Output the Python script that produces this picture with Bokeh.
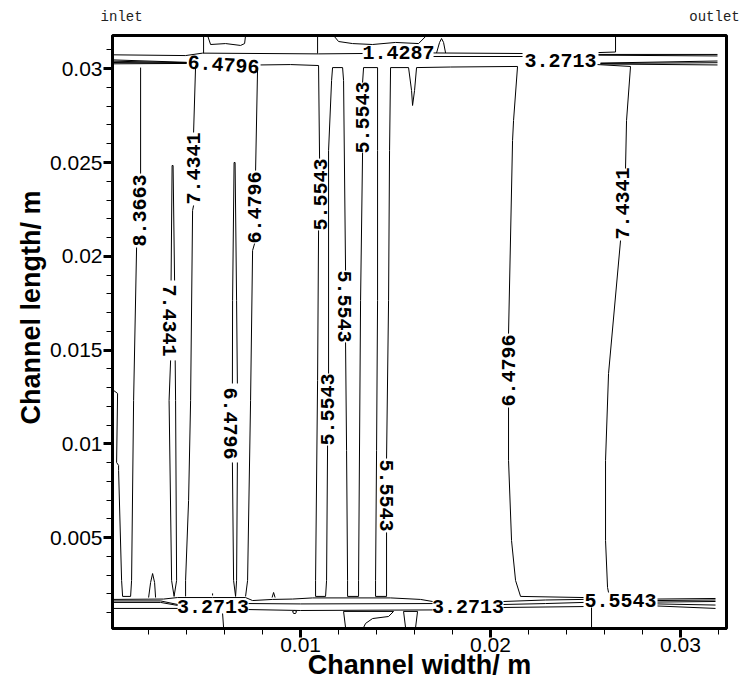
import math
import numpy as np
from bokeh.plotting import figure
from bokeh.models import (Range1d, FixedTicker, ColumnDataSource, LinearAxis, Title,
                          PrintfTickFormatter, AllLabels)
from bokeh.core.properties import value
from bokeh.embed import file_html
from bokeh.resources import INLINE

NaN = float("nan")

# ---------------- data (millimetres; NaN = gap at a contour label) -------------
# upper band (y ~ 30-31.8 mm)
top_edge_x = [0.105, 3.947, 4.842, 10.947, 13.263]
top_edge_y = [30.74, 30.70, 30.83, 30.79, 30.81]
top_drop_a_x = [4.895, 4.895]
top_drop_a_y = [31.77, 30.83]
top_drop_b_x = [10.895, 10.895]
top_drop_b_y = [31.77, 30.81]
top_bump_x = [5.105, 5.263, 6.053, 6.842, 7.053, 7.105]
top_bump_y = [31.77, 31.29, 31.34, 31.24, 31.34, 31.77]
top_wave_x = [11.737, 12.0, 12.737, 13.789, 15.0, 16.211, 16.632]
top_wave_y = [31.77, 31.45, 31.34, 31.29, 31.40, 31.34, 31.77]
top_tent_x = [17.158, 17.316, 17.421, 17.526, 17.632]
top_tent_y = [30.84, 31.40, 31.61, 31.40, 30.84]
top_mid_a_x = [17.0, 21.684]
top_mid_a_y = [30.84, 30.81]
top_mid_b_x = [17.0, 21.684]
top_mid_b_y = [30.65, 30.65]
top_right_up_x = [25.684, 26.579, 26.579]
top_right_up_y = [30.86, 30.89, 31.77]
top_r1_x = [25.684, 31.947]
top_r1_y = [30.76, 30.76]
top_r2_x = [25.684, 31.947]
top_r2_y = [30.72, 30.68]
top_r3_x = [25.789, 31.947]
top_r3_y = [30.30, 30.41]
top_r4_x = [25.789, 31.947]
top_r4_y = [30.28, 30.32]
top_r5_x = [25.789, 31.947]
top_r5_y = [30.25, 30.20]
top_l1_x = [0.105, 4.0]
top_l1_y = [30.47, 30.34]
top_l2_x = [0.105, 4.0]
top_l2_y = [30.40, 30.32]
top_l3_x = [0.105, 4.0]
top_l3_y = [30.33, 30.30]
top_l4_x = [0.105, 4.0]
top_l4_y = [30.26, 30.28]

# serpentine 5.5543 contour through the ribs, continuing as the 6.4796 contour
serp_x = [7.895, 9.474, 10.947, 11.0, NaN, 10.947, 10.895, 10.789, 10.789, 11.316, 11.368, 11.421, NaN,
          11.474, 11.474, 11.632, 11.684, 12.211, 12.263, 12.368, NaN, 12.368, 12.421, 12.474, 12.474,
          13.053, 13.053, 13.158, 13.263, NaN, 13.263, 13.316, 14.053, 14.053, 14.053, 14.0, 13.947,
          13.947, 14.526, 14.526, NaN, 14.526, 14.632, 14.684, 14.737, 15.684, 15.842, 15.895, 16.0,
          16.105, 17.895, 21.421, 21.211, 21.158, 20.947, NaN, 20.947, 20.947, 21.105, 21.316, 21.579,
          24.895]
serp_y = [30.20, 30.22, 30.17, 25.21, NaN, 21.38, 13.38, 2.72, 1.87, 1.87, 2.72, 9.91, NaN,
          13.75, 25.64, 29.37, 30.06, 30.06, 29.37, 19.24, NaN, 15.41, 9.65, 2.72, 1.87,
          1.87, 2.72, 17.64, 25.53, NaN, 29.26, 30.06, 30.06, 25.64, 17.64, 9.65, 2.72,
          1.87, 1.87, 5.28, NaN, 9.22, 17.64, 25.64, 30.06, 30.06, 28.84, 28.04, 28.84,
          30.06, 30.09, 30.12, 27.24, 26.17, 15.88, NaN, 11.94, 9.12, 4.85, 2.72, 1.87,
          1.81]

c6_left_x = [7.737, 7.632, NaN, 7.579, 7.474, 7.368, 7.211, 7.105]
c6_left_y = [30.06, 24.57, NaN, 20.68, 20.31, 12.31, 2.72, 1.87]
c7_left_x = [4.474, 4.368, NaN, 4.368, 4.316, 4.211, 4.105, 3.947, 3.947]
c7_left_y = [30.17, 26.60, NaN, 22.71, 22.44, 12.31, 6.98, 2.72, 1.87]
c8_x = [0.158, 0.368, 0.316, 0.421, 0.421, 0.579, 0.632, 1.053, 1.105, 1.211, 1.368, NaN, 1.579, 1.579]
c8_y = [12.85, 12.69, 9.01, 8.85, 8.58, 2.72, 1.87, 1.87, 2.72, 12.31, 20.47, NaN, 24.41, 30.06]
sliver7_x = [3.237, 3.184, NaN, 3.158, 3.079, 3.211, 3.342, 3.474, 3.421, 3.4, NaN, 3.368, 3.289, 3.237]
sliver7_y = [24.84, 18.71, NaN, 14.45, 12.31, 2.72, 1.87, 2.72, 12.31, 14.45, NaN, 18.71, 24.84, 24.84]
sliver6_x = [6.5, 6.421, 6.411, NaN, 6.411, 6.474, 6.579, 6.632, 6.674, NaN, 6.674, 6.632, 6.553, 6.5]
sliver6_y = [25.0, 17.64, 13.22, NaN, 9.01, 2.72, 1.87, 2.72, 9.01, NaN, 13.22, 17.64, 25.0, 25.0]
tent_x = [2.0, 2.105, 2.211, 2.316, 2.368]
tent_y = [1.81, 2.61, 3.09, 2.61, 1.81]
c7_right_x = [25.632, 27.368, 27.158, 27.105, NaN, 26.842, 26.211, 26.053, 26.053, 26.158, 26.211]
c7_right_y = [30.22, 30.12, 27.24, 24.68, NaN, 20.84, 13.75, 9.12, 4.85, 2.35, 2.08]

# lower band (y ~ 0.2-2 mm)
bb_top_x = [0.105, 2.789, 3.526, 5.368, 7.105, 7.474, 8.526, 9.579, 10.632, 14.737, 16.316, 16.947]
bb_top_y = [1.71, 1.73, 1.81, 1.81, 1.81, 1.65, 1.71, 1.73, 1.79, 1.79, 1.71, 1.60]
bl1_x = [0.105, 2.632, 3.526]
bl1_y = [1.63, 1.63, 1.44]
bl2_x = [0.105, 2.632, 3.526]
bl2_y = [1.55, 1.55, 1.39]
bl3_x = [0.105, 3.526]
bl3_y = [1.23, 1.23]
bm1_x = [7.263, 10.0, 16.947]
bm1_y = [1.49, 1.47, 1.49]
bm2_x = [7.263, 10.0, 16.947]
bm2_y = [1.17, 1.12, 1.15]
br1_x = [20.684, 22.895, 24.895]
br1_y = [1.60, 1.68, 1.71]
br2_x = [20.684, 22.895, 24.895]
br2_y = [1.44, 1.49, 1.55]
br3_x = [20.684, 24.895]
br3_y = [1.28, 1.33]
bq1_x = [28.789, 31.842]
bq1_y = [1.73, 1.76]
bq2_x = [28.789, 31.842]
bq2_y = [1.65, 1.68]
bq3_x = [28.789, 31.842]
bq3_y = [1.57, 1.60]
bq4_x = [28.789, 31.842]
bq4_y = [1.47, 1.41]
bq5_x = [28.789, 31.842]
bq5_y = [1.36, 1.23]
vd1_x = [5.895, 5.947]
vd1_y = [0.96, 0.21]
vd2_x = [25.316, 25.316]
vd2_y = [1.28, 0.21]
box1_x = [12.368, 12.263, 14.895, 14.632, 13.789, 13.421, 13.316]
box1_y = [0.21, 1.07, 1.07, 0.80, 0.69, 0.43, 0.21]
box2_x = [15.526, 15.421, 16.158, 16.053]
box2_y = [0.21, 1.07, 1.07, 0.21]
loop_x = [9.579, 9.684, 9.789, 9.737, 9.632, 9.579]
loop_y = [1.07, 1.12, 1.07, 0.96, 0.96, 1.07]
mark1_x = [5.368, 5.368]
mark1_y = [2.03, 1.92]
mark2_x = [8.5, 8.579, 8.658]
mark2_y = [1.81, 2.08, 1.81]

# contour labels
label_text = ["6.4796", "1.4287", "3.2713", "8.3663", "7.4341", "7.4341", "6.4796", "6.4796",
              "5.5543", "5.5543", "5.5543", "5.5543", "5.5543", "6.4796", "7.4341",
              "3.2713", "3.2713", "5.5543"]
label_x = [5.947, 15.158, 23.684, 1.5, 3.105, 4.368, 7.579, 6.316,
           11.053, 12.289, 13.263, 11.421, 14.526, 20.947, 26.947,
           5.395, 18.816, 26.842]
label_y = [30.22, 30.86, 30.44, 22.44, 16.58, 24.68, 22.60, 11.09,
           23.29, 17.32, 27.40, 11.83, 7.25, 13.91, 22.81,
           1.31, 1.33, 1.65]
label_angle_deg = [-4, 0, 0, 90, -90, 90, 90, -90,
                   90, -90, 90, 90, -90, 90, 90,
                   0, 0, 0]

x_ticks = [0.01, 0.02, 0.03]
x_minor = [0.002, 0.004, 0.006, 0.008, 0.012, 0.014, 0.016, 0.018,
           0.022, 0.024, 0.026, 0.028, 0.032]
y_ticks = [0.005, 0.01, 0.015, 0.02, 0.025, 0.03]
y_minor = [0.001, 0.002, 0.003, 0.004, 0.006, 0.007, 0.008, 0.009,
           0.011, 0.012, 0.013, 0.014, 0.016, 0.017, 0.018, 0.019,
           0.021, 0.022, 0.023, 0.024, 0.026, 0.027, 0.028, 0.029, 0.031]
end_marks = [0.00058, 0.03179]
end_labels = ["inlet", "outlet"]

# ---------------- figure -------------
p = figure(width=740, height=679, output_backend="svg", toolbar_location=None,
           x_range=Range1d(0.0001, 0.03242), y_range=Range1d(0.00016, 0.03177),
           min_border_left=112, min_border_right=14, min_border_top=35, min_border_bottom=51)
p.grid.visible = False
p.outline_line_color = "black"
p.outline_line_width = 3
p.background_fill_color = "white"
p.border_fill_color = "white"

polylines = [
    (top_edge_x, top_edge_y), (top_drop_a_x, top_drop_a_y), (top_drop_b_x, top_drop_b_y),
    (top_bump_x, top_bump_y), (top_wave_x, top_wave_y), (top_tent_x, top_tent_y),
    (top_mid_a_x, top_mid_a_y), (top_mid_b_x, top_mid_b_y), (top_right_up_x, top_right_up_y),
    (top_r1_x, top_r1_y), (top_r2_x, top_r2_y), (top_r3_x, top_r3_y), (top_r4_x, top_r4_y),
    (top_r5_x, top_r5_y), (top_l1_x, top_l1_y), (top_l2_x, top_l2_y), (top_l3_x, top_l3_y),
    (top_l4_x, top_l4_y), (serp_x, serp_y), (c6_left_x, c6_left_y), (c7_left_x, c7_left_y),
    (c8_x, c8_y), (sliver7_x, sliver7_y), (sliver6_x, sliver6_y), (tent_x, tent_y),
    (c7_right_x, c7_right_y), (bb_top_x, bb_top_y), (bl1_x, bl1_y), (bl2_x, bl2_y),
    (bl3_x, bl3_y), (bm1_x, bm1_y), (bm2_x, bm2_y), (br1_x, br1_y), (br2_x, br2_y),
    (br3_x, br3_y), (bq1_x, bq1_y), (bq2_x, bq2_y), (bq3_x, bq3_y), (bq4_x, bq4_y),
    (bq5_x, bq5_y), (vd1_x, vd1_y), (vd2_x, vd2_y), (box1_x, box1_y), (box2_x, box2_y),
    (loop_x, loop_y), (mark1_x, mark1_y), (mark2_x, mark2_y),
]
xs = [np.array(x, dtype=float) / 1000.0 for x, _ in polylines]
ys = [np.array(y, dtype=float) / 1000.0 for _, y in polylines]
p.multi_line(xs=xs, ys=ys, line_color="black", line_width=1)

lab_src = ColumnDataSource(dict(
    x=[v / 1000.0 for v in label_x],
    y=[v / 1000.0 for v in label_y],
    text=label_text,
    angle=[math.radians(a) for a in label_angle_deg],
))
p.text(x="x", y="y", text="text", angle="angle", source=lab_src,
       text_font=value("Liberation Mono"), text_font_style="bold", text_font_size="20px",
       text_align="center", text_baseline="middle", text_color="black")

# axes
for ax, ticks, minor in ((p.xaxis[0], x_ticks, x_minor), (p.yaxis[0], y_ticks, y_minor)):
    ax.ticker = FixedTicker(ticks=ticks, minor_ticks=minor)
    ax.formatter = PrintfTickFormatter(format="%g")
    ax.major_label_policy = AllLabels()
    ax.axis_line_width = 3
    ax.axis_line_color = "black"
    ax.major_tick_line_width = 3
    ax.major_tick_out = 9
    ax.major_tick_in = 0
    ax.minor_tick_line_width = 1
    ax.minor_tick_out = 6
    ax.minor_tick_in = 0
    ax.major_label_text_font = "Liberation Sans"
    ax.major_label_text_font_size = "21px"
    ax.major_label_text_color = "black"

p.xaxis.major_label_standoff = 0
p.yaxis.major_label_standoff = 1

p.add_layout(Title(text="Channel width/ m", align="center", standoff=-14,
                   text_font="Liberation Sans", text_font_style="bold", text_font_size="27px",
                   text_color="black"), "below")
p.add_layout(Title(text="Channel length/ m", align="left", offset=204, standoff=2,
                   text_font="Liberation Sans", text_font_style="bold", text_font_size="27px",
                   text_color="black"), "left")

top_ax = LinearAxis(ticker=FixedTicker(ticks=end_marks, minor_ticks=[]),
                    major_label_overrides={t: s for t, s in zip(end_marks, end_labels)},
                    axis_line_color=None, major_tick_line_color=None, minor_tick_line_color=None,
                    major_tick_out=0, major_tick_in=0, major_label_standoff=11,
                    major_label_text_font="Liberation Mono", major_label_text_font_size="14px",
                    major_label_text_color="#222222")
p.add_layout(top_ax, "above")

open("out.html", "w").write(file_html(p, INLINE))
